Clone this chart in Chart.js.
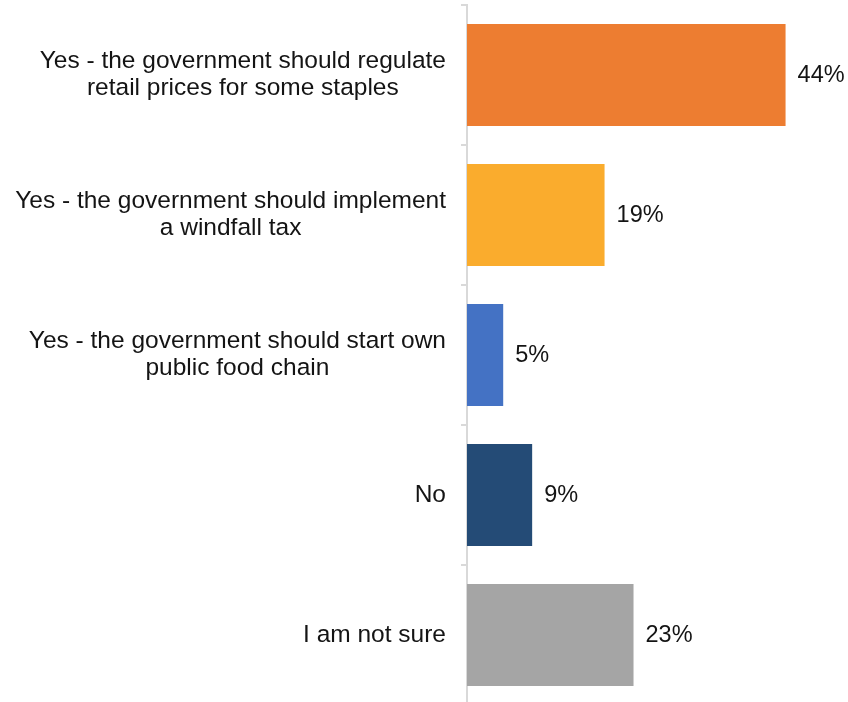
<!DOCTYPE html>
<html>
<head>
<meta charset="utf-8">
<script src="https://cdn.jsdelivr.net/npm/chart.js@4"></script>
<style>
  html, body { margin: 0; padding: 0; background: #fff; }
  #wrap { width: 848px; height: 702px; overflow: hidden; position: relative; }
  canvas { display: block; }
</style>
</head>
<body>
<div id="wrap"><canvas id="c" width="848" height="705"></canvas></div>
<script>
// Survey answers, one entry per bar (each label split into its lines)
const categories = [
  ['Yes - the government should regulate', 'retail prices for some staples'],
  ['Yes - the government should implement', 'a windfall tax'],
  ['Yes - the government should start own', 'public food chain'],
  ['No'],
  ['I am not sure']
];
const shares = [44, 19, 5, 9, 23];
const barColors = ['#ED7D31', '#FAAC2D', '#4472C4', '#244B76', '#A5A5A5'];

const FONT = '"Liberation Sans", Arial, sans-serif';
const TEXT_COLOR = '#141414';

// Multi-line category labels: block right-aligned to the axis, lines centred within the block
const categoryLabels = {
  id: 'categoryLabels',
  afterDraw(chart) {
    const ctx = chart.ctx;
    const y = chart.scales.y;
    const right = chart.chartArea.left - 21;
    const lineH = 27;
    ctx.save();
    ctx.font = '24.5px ' + FONT;
    ctx.fillStyle = TEXT_COLOR;
    ctx.textAlign = 'center';
    ctx.textBaseline = 'middle';
    categories.forEach((lines, i) => {
      const cy = y.getPixelForValue(i);
      const w = Math.max(...lines.map(l => ctx.measureText(l).width));
      const cx = right - w / 2;
      const top = cy - (lines.length - 1) * lineH / 2;
      lines.forEach((l, k) => ctx.fillText(l, cx, top + k * lineH));
    });
    ctx.restore();
  }
};

// Percentage shown just past the end of each bar
const valueLabels = {
  id: 'valueLabels',
  afterDatasetsDraw(chart) {
    const ctx = chart.ctx;
    const meta = chart.getDatasetMeta(0);
    ctx.save();
    ctx.font = '23.5px ' + FONT;
    ctx.fillStyle = TEXT_COLOR;
    ctx.textAlign = 'left';
    ctx.textBaseline = 'middle';
    meta.data.forEach((bar, i) => {
      ctx.fillText(shares[i] + '%', bar.x + 12, bar.y + 1);
    });
    ctx.restore();
  }
};

new Chart(document.getElementById('c'), {
  type: 'bar',
  data: {
    labels: categories.map(l => l.join(' ')),
    datasets: [{
      data: shares,
      backgroundColor: barColors,
      borderWidth: 0,
      categoryPercentage: 1,
      barPercentage: 0.73
    }]
  },
  options: {
    indexAxis: 'y',
    responsive: false,
    animation: false,
    events: [],
    layout: { padding: { top: 5, bottom: 0, left: 0, right: 19 } },
    plugins: { legend: { display: false }, tooltip: { enabled: false } },
    scales: {
      x: { min: 0, max: 50, display: false },
      y: {
        offset: true,
        grid: {
          display: true,
          offset: true,
          drawOnChartArea: false,
          drawTicks: true,
          tickLength: 6,
          color: '#D9D9D9',
          lineWidth: 2
        },
        border: { display: true, color: '#D9D9D9', width: 2 },
        ticks: { display: false },
        afterFit(scale) { scale.width = 467; }
      }
    }
  },
  plugins: [categoryLabels, valueLabels]
});
</script>
</body>
</html>
